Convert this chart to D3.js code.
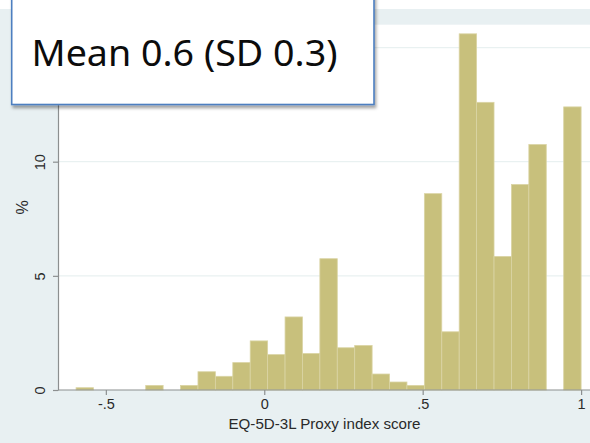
<!DOCTYPE html>
<html>
<head>
<meta charset="utf-8">
<script src="https://cdn.jsdelivr.net/npm/d3@7"></script>
<style>
  html, body { margin: 0; padding: 0; background: #ffffff; }
  svg { display: block; }
</style>
</head>
<body>
<svg id="chart" width="590" height="443"></svg>
<script>
// Histogram of EQ-5D-3L proxy index scores (percent of respondents per bin)
const binStart = -0.594;
const binWidth = 0.054966;
const binPercents = [
  0.1, 0, 0, 0, 0.2, 0, 0.2, 0.8, 0.6, 1.2,
  2.15, 1.55, 3.2, 1.6, 5.75, 1.85, 1.95, 0.7, 0.35, 0.2,
  8.6, 2.55, 15.6, 12.6, 5.85, 9.0, 10.75, 0, 12.4
];
const xTickValues = [-0.5, 0, 0.5, 1];
const xTickLabels = ["-.5", "0", ".5", "1"];
const yTickValues = [0, 5, 10, 15];
const yGridValues = [5, 10, 15];
const xTitle = "EQ-5D-3L Proxy index score";
const yTitle = "%";
const summaryText = "Mean 0.6 (SD 0.3)";

const bins = binPercents.map((p, i) => ({
  x0: binStart + i * binWidth,
  x1: binStart + (i + 1) * binWidth,
  pct: p
}));

const svg = d3.select("#chart");
const W = 590, H = 443;
const axisFont = "'Liberation Sans', Arial, sans-serif";

// outer graph region
svg.append("rect").attr("x", 0).attr("y", 9).attr("width", W).attr("height", H - 9)
  .attr("fill", "#e8f0f2");

const x = d3.scaleLinear().domain([-0.651, 1.0]).range([58, 581.1]);
const y = d3.scaleLinear().domain([0, 16]).range([390, 24.7]);

// plot region
svg.append("rect")
  .attr("x", x.range()[0]).attr("y", y(16))
  .attr("width", W - x.range()[0] + 10).attr("height", y(0) - y(16))
  .attr("fill", "#ffffff");

// horizontal grid lines
svg.append("g").selectAll("line").data(yGridValues).join("line")
  .attr("x1", x.range()[0]).attr("x2", W + 10)
  .attr("y1", d => y(d)).attr("y2", d => y(d))
  .attr("stroke", "#e9f1f1").attr("stroke-width", 1.2);

// bars
svg.append("g").selectAll("rect").data(bins.filter(b => b.pct > 0)).join("rect")
  .attr("x", d => x(d.x0))
  .attr("width", d => x(d.x1) - x(d.x0))
  .attr("y", d => y(d.pct))
  .attr("height", d => y(0) - y(d.pct))
  .attr("fill", "#c8c07c")
  .attr("stroke", "#dad4a4")
  .attr("stroke-width", 0.8);

// x axis
const xAxis = d3.axisBottom(x)
  .tickValues(xTickValues)
  .tickFormat((d, i) => xTickLabels[i])
  .tickSizeInner(5).tickSizeOuter(0).tickPadding(4);
const gx = svg.append("g").attr("transform", `translate(0,${y(0)})`).call(xAxis);
gx.select(".domain").attr("d", `M${x.range()[0]},0H${W + 10}`);
gx.selectAll("path, line").attr("stroke", "#8c8f90").attr("stroke-width", 1.2);
gx.selectAll("text")
  .attr("font-family", axisFont)
  .attr("font-size", 14.5).attr("fill", "#2a2a2a");

// y axis
const yAxis = d3.axisLeft(y)
  .tickValues(yTickValues)
  .tickFormat(d3.format("d"))
  .tickSizeInner(5).tickSizeOuter(0).tickPadding(4);
const gy = svg.append("g").attr("transform", `translate(${x.range()[0]},0)`).call(yAxis);
gy.selectAll("path, line").attr("stroke", "#8c8f90").attr("stroke-width", 1.2);
gy.selectAll("text")
  .attr("font-family", axisFont)
  .attr("font-size", 14.5).attr("fill", "#2a2a2a")
  .attr("text-anchor", "middle")
  .attr("dy", "0")
  .attr("transform", "translate(-13,0) rotate(-90)")
  .attr("x", 0).attr("y", 0);

// axis titles
svg.append("text")
  .attr("x", 324.5).attr("y", 429)
  .attr("text-anchor", "middle")
  .attr("font-family", axisFont)
  .attr("font-size", 14.5).attr("fill", "#2a2a2a")
  .attr("textLength", 192).attr("lengthAdjust", "spacingAndGlyphs")
  .text(xTitle);

svg.append("text")
  .attr("transform", `translate(28,${(y(0) + y(16)) / 2}) rotate(-90)`)
  .attr("text-anchor", "middle")
  .attr("font-family", axisFont)
  .attr("font-size", 16).attr("fill", "#2a2a2a")
  .text(yTitle);

// summary text box
const defs = svg.append("defs");
const f = defs.append("filter").attr("id", "boxShadow")
  .attr("x", "-10%").attr("y", "-10%").attr("width", "130%").attr("height", "130%");
f.append("feDropShadow").attr("dx", 1.5).attr("dy", 3).attr("stdDeviation", 1.8)
  .attr("flood-color", "#000").attr("flood-opacity", 0.35);

svg.append("rect")
  .attr("x", 11.7).attr("y", -10)
  .attr("width", 374 - 11.7).attr("height", 104.5 + 10)
  .attr("fill", "#ffffff")
  .attr("stroke", "#4d7fc0").attr("stroke-width", 1.6)
  .attr("filter", "url(#boxShadow)");

svg.append("text")
  .attr("x", 31.5).attr("y", 65.7)
  .attr("font-family", "'Noto Sans', 'Open Sans', sans-serif")
  .attr("font-size", 37).attr("fill", "#0c0c0c")
  .attr("textLength", 306).attr("lengthAdjust", "spacingAndGlyphs")
  .text(summaryText);
</script>
</body>
</html>
